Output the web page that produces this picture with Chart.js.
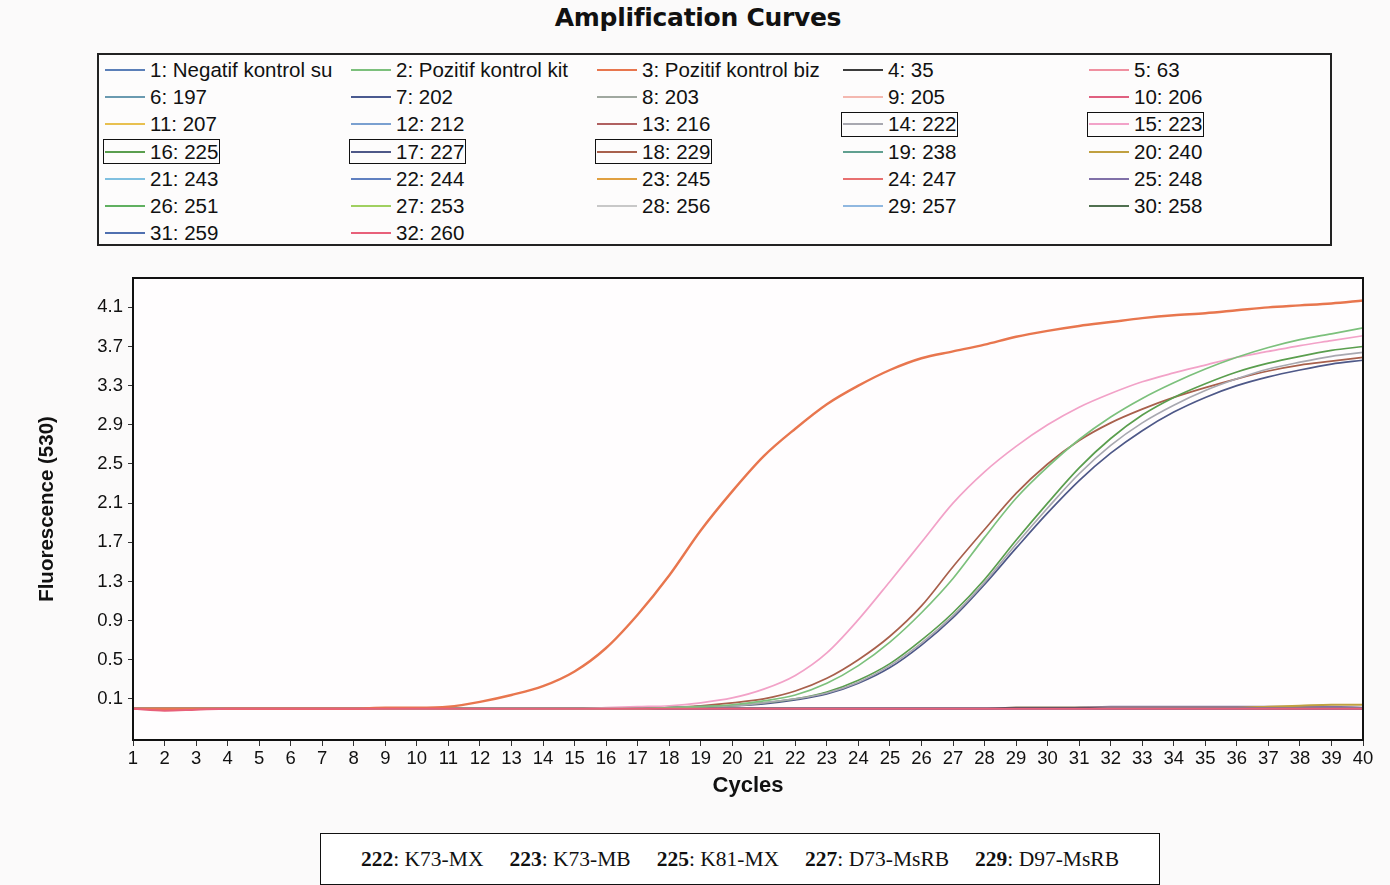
<!DOCTYPE html>
<html>
<head>
<meta charset="utf-8">
<title>Amplification Curves</title>
<script src="https://cdn.jsdelivr.net/npm/chart.js@4.4.1/dist/chart.umd.min.js"></script>
<style>
    html, body {
        margin: 0;
        padding: 0;
        background: #fbfafa;
        width: 1390px;
        height: 885px;
        overflow: hidden;
        font-family: 'Liberation Sans', Arial, sans-serif;
        color: #111;
    }

    .chart-title {
        position: absolute;
        left: 0;
        top: 3px;
        width: 1396px;
        text-align: center;
        font-family: 'DejaVu Sans', sans-serif;
        font-weight: bold;
        font-size: 25px;
        letter-spacing: -0.3px;
    }

    .legend-box {
        position: absolute;
        left: 97px;
        top: 53px;
        width: 1235px;
        height: 193px;
        box-sizing: border-box;
        border: 2px solid #222;
        background: #fdfcfc;
        display: grid;
        grid-template-columns: repeat(5, 246px);
        grid-auto-rows: 27.3px;
        padding: 1px 0 0 6px;
    }

    .legend-item {
        display: flex;
        align-items: center;
        font-size: 20.5px;
        white-space: nowrap;
    }

    .legend-item span.swatch {
        display: inline-block;
        width: 40px;
        height: 2px;
        margin-right: 5px;
    }

    .legend-item .inner {
        display: inline-flex;
        align-items: center;
        height: 23px;
    }

    .legend-item.boxed .inner {
        outline: 1.5px solid #111;
        outline-offset: 0;
        padding: 0 1px;
        margin-left: -1px;
    }

    .chart-wrap {
        position: absolute;
        left: 0;
        top: 260px;
        width: 1390px;
        height: 560px;
    }

    .caption-box {
        position: absolute;
        left: 320px;
        top: 833px;
        width: 840px;
        height: 52px;
        box-sizing: border-box;
        border: 1.5px solid #111;
        background: #fff;
        font-family: 'Liberation Serif', 'Times New Roman', serif;
        font-size: 21.5px;
        display: flex;
        align-items: center;
        justify-content: center;
    }

    .caption-box span {
        margin: 0 13px;
    }
</style>
</head>
<body>
<div class="chart-title">Amplification Curves</div>
<div class="legend-box" id="legendBox"></div>
<div class="chart-wrap"><canvas id="ampChart"></canvas></div>
<div class="caption-box" id="captionBox"></div>

<script>
const cycles = [1, 2, 3, 4, 5, 6, 7, 8, 9, 10, 11, 12, 13, 14, 15, 16, 17, 18, 19, 20,
    21, 22, 23, 24, 25, 26, 27, 28, 29, 30, 31, 32, 33, 34, 35, 36, 37, 38, 39, 40];

const yTickValues = [0.1, 0.5, 0.9, 1.3, 1.7, 2.1, 2.5, 2.9, 3.3, 3.7, 4.1];

const sampleLabels = [
    '1: Negatif kontrol su', '2: Pozitif kontrol kit', '3: Pozitif kontrol biz', '4: 35', '5: 63',
    '6: 197', '7: 202', '8: 203', '9: 205', '10: 206',
    '11: 207', '12: 212', '13: 216', '14: 222', '15: 223',
    '16: 225', '17: 227', '18: 229', '19: 238', '20: 240',
    '21: 243', '22: 244', '23: 245', '24: 247', '25: 248',
    '26: 251', '27: 253', '28: 256', '29: 257', '30: 258',
    '31: 259', '32: 260'
];

const lineColors = [
    '#5b7fb8', '#7cc07c', '#e8764e', '#3c3c3c', '#f090a0',
    '#6a9ab0', '#4a5a90', '#a0a8a0', '#f4b8b0', '#e06080',
    '#e8c050', '#7aa0d0', '#b06060', '#a8a8b0', '#f2a2c8',
    '#5a9e4e', '#4e5888', '#a8604c', '#60a090', '#c0a040',
    '#80c0e0', '#6080c0', '#e0a040', '#e87070', '#8070a8',
    '#60b060', '#a0d060', '#c8c8c8', '#90b8e0', '#507050',
    '#5070b0', '#e8607a'
];

const boxedSamples = ['14: 222', '15: 223', '16: 225', '17: 227', '18: 229'];

// fluorescence per cycle
const kontrolBiz = [0, 0, 0, 0, 0, 0, 0, 0, 0.01, 0.01,
    0.02, 0.07, 0.14, 0.23, 0.38, 0.62, 0.96, 1.36, 1.82, 2.22,
    2.58, 2.86, 3.11, 3.30, 3.46, 3.58, 3.65, 3.72, 3.80, 3.86,
    3.91, 3.95, 3.99, 4.02, 4.04, 4.07, 4.10, 4.12, 4.14, 4.17];

const kontrolKit = [0, 0, 0, 0, 0, 0, 0, 0, 0, 0,
    0, 0, 0, 0, 0, 0, 0, 0.01, 0.02, 0.04,
    0.08, 0.14, 0.26, 0.44, 0.68, 0.98, 1.33, 1.75, 2.15, 2.47,
    2.75, 2.98, 3.17, 3.33, 3.47, 3.59, 3.69, 3.77, 3.83, 3.89];

const s222 = [0, 0, 0, 0, 0, 0, 0, 0, 0, 0,
    0, 0, 0, 0, 0, 0, 0, 0.01, 0.02, 0.03,
    0.06, 0.10, 0.16, 0.27, 0.44, 0.67, 0.95, 1.29, 1.68, 2.05,
    2.40, 2.69, 2.92, 3.10, 3.25, 3.37, 3.47, 3.54, 3.60, 3.64];

const s223 = [0, 0, 0, 0, 0, 0, 0, 0, 0, 0,
    0, 0, 0, 0, 0, 0.01, 0.02, 0.03, 0.06, 0.11,
    0.20, 0.34, 0.57, 0.91, 1.30, 1.70, 2.10, 2.42, 2.68, 2.90,
    3.08, 3.22, 3.34, 3.43, 3.51, 3.59, 3.65, 3.71, 3.76, 3.81];

const s225 = [0, 0, 0, 0, 0, 0, 0, 0, 0, 0,
    0, 0, 0, 0, 0, 0, 0, 0.01, 0.02, 0.03,
    0.06, 0.10, 0.17, 0.29, 0.46, 0.70, 0.98, 1.32, 1.72, 2.10,
    2.46, 2.76, 3.00, 3.18, 3.32, 3.44, 3.53, 3.60, 3.66, 3.70];

const s227 = [0, 0, 0, 0, 0, 0, 0, 0, 0, 0,
    0, 0, 0, 0, 0, 0, 0, 0.01, 0.02, 0.03,
    0.05, 0.09, 0.15, 0.26, 0.42, 0.65, 0.93, 1.27, 1.64, 2.00,
    2.33, 2.61, 2.84, 3.03, 3.18, 3.30, 3.39, 3.46, 3.52, 3.56];

const s229 = [0, 0, 0, 0, 0, 0, 0, 0, 0, 0,
    0, 0, 0, 0, 0, 0, 0, 0.01, 0.03, 0.06,
    0.10, 0.18, 0.31, 0.50, 0.74, 1.05, 1.45, 1.83, 2.20, 2.50,
    2.74, 2.92, 3.06, 3.18, 3.28, 3.37, 3.45, 3.51, 3.55, 3.59];

const baseFlat = [0, 0, 0, 0, 0, 0, 0, 0, 0, 0,
    0, 0, 0, 0, 0, 0, 0, 0, 0, 0,
    0, 0, 0, 0, 0, 0, 0, 0, 0, 0,
    0, 0, 0, 0, 0, 0, 0, 0, 0, 0];

const baseRed = [0, -0.02, -0.01, 0, 0, 0, 0, 0, 0, 0,
    0, 0, 0, 0, 0, 0, 0, 0, 0, 0,
    0, 0, 0, 0, 0, 0, 0, 0, 0, 0,
    0, 0, 0, 0, 0, 0, 0, 0, 0, 0];

const baseOlive = [0, 0, 0, 0, 0, 0, 0, 0, 0, 0,
    0, 0, 0, 0, 0, 0, 0, 0, 0, 0,
    0, 0, 0, 0, 0, 0, 0, 0, 0.01, 0.01,
    0.01, 0.01, 0.01, 0.01, 0.01, 0.01, 0.02, 0.03, 0.04, 0.04];

const basePurple = [0, 0, 0, 0, 0, 0, 0, 0, 0, 0,
    0, 0, 0, 0, 0, 0, 0, 0, 0, 0,
    0, 0, 0, 0, 0, 0, 0, 0, 0, 0,
    0.01, 0.02, 0.02, 0.02, 0.02, 0.02, 0.02, 0.02, 0.02, 0.01];

const baseDark = [0, 0, 0, 0, 0, 0, 0, 0, 0, 0,
    0, 0, 0, 0, 0, 0, 0, 0, 0, 0,
    0, 0, 0, 0, 0, 0, 0, 0, 0.01, 0.01,
    0.01, 0, 0, 0, 0, 0, 0, 0, 0, 0];

const captionItems = [
    ['222', 'K73-MX'], ['223', 'K73-MB'], ['225', 'K81-MX'], ['227', 'D73-MsRB'], ['229', 'D97-MsRB']
];

document.addEventListener('DOMContentLoaded', function () {
    const seriesByLabel = {
        '2: Pozitif kontrol kit': kontrolKit,
        '3: Pozitif kontrol biz': kontrolBiz,
        '4: 35': baseDark,
        '14: 222': s222,
        '15: 223': s223,
        '16: 225': s225,
        '17: 227': s227,
        '18: 229': s229,
        '20: 240': baseOlive,
        '25: 248': basePurple,
        '32: 260': baseRed
    };

    // legend
    const legendBox = document.getElementById('legendBox');
    sampleLabels.forEach(function (label, i) {
        const item = document.createElement('div');
        item.className = 'legend-item' + (boxedSamples.includes(label) ? ' boxed' : '');
        const inner = document.createElement('span');
        inner.className = 'inner';
        const swatch = document.createElement('span');
        swatch.className = 'swatch';
        swatch.style.background = lineColors[i];
        inner.appendChild(swatch);
        inner.appendChild(document.createTextNode(label));
        item.appendChild(inner);
        legendBox.appendChild(item);
    });

    // caption under the chart
    const captionBox = document.getElementById('captionBox');
    captionItems.forEach(function (pair) {
        const span = document.createElement('span');
        const b = document.createElement('b');
        b.textContent = pair[0];
        span.appendChild(b);
        span.appendChild(document.createTextNode(': ' + pair[1]));
        captionBox.appendChild(span);
    });

    const datasets = sampleLabels.map(function (label, i) {
        const rising = ['2: Pozitif kontrol kit', '3: Pozitif kontrol biz', '14: 222', '15: 223',
            '16: 225', '17: 227', '18: 229'].includes(label);
        let order = 5;
        if (rising) order = 2;
        if (label === '32: 260') order = 0;
        if (label === '3: Pozitif kontrol biz') order = 1;
        return {
            label: label,
            data: seriesByLabel[label] || baseFlat,
            borderColor: lineColors[i],
            borderWidth: label === '3: Pozitif kontrol biz' ? 2.4 : (rising ? 1.7 : 2),
            pointRadius: 0,
            fill: false,
            cubicInterpolationMode: 'monotone',
            order: order
        };
    });

    const framePlugin = {
        id: 'plotFrame',
        beforeDraw: function (chart) {
            const a = chart.chartArea;
            const ctx = chart.ctx;
            ctx.save();
            ctx.fillStyle = '#fffdfe';
            ctx.fillRect(a.left, a.top, a.right - a.left, a.bottom - a.top);
            ctx.restore();
        },
        afterDatasetsDraw: function (chart) {
            const a = chart.chartArea;
            const ctx = chart.ctx;
            ctx.save();
            ctx.strokeStyle = '#111';
            ctx.lineWidth = 2;
            ctx.strokeRect(a.left, a.top, a.right - a.left, a.bottom - a.top);
            ctx.restore();
        }
    };

    new Chart(document.getElementById('ampChart'), {
        type: 'line',
        data: {
            labels: cycles,
            datasets: datasets
        },
        options: {
            responsive: true,
            maintainAspectRatio: false,
            animation: false,
            layout: {
                padding: { top: 18, right: 27, left: 0, bottom: 0 }
            },
            plugins: {
                legend: { display: false },
                tooltip: { enabled: false }
            },
            scales: {
                x: {
                    type: 'category',
                    offset: false,
                    afterFit: function (scale) {
                        scale.height = 80;
                    },
                    grid: {
                        display: true,
                        drawOnChartArea: false,
                        drawTicks: true,
                        tickLength: 6,
                        color: '#333'
                    },
                    border: { display: true, color: '#111', width: 2 },
                    ticks: {
                        autoSkip: false,
                        maxRotation: 0,
                        padding: 2,
                        color: '#111',
                        font: { family: "'Liberation Sans', Arial, sans-serif", size: 18.5 }
                    },
                    title: {
                        display: true,
                        text: 'Cycles',
                        color: '#111',
                        padding: { top: 0, bottom: 21 },
                        font: { family: "'Liberation Sans', Arial, sans-serif", size: 22, weight: 'bold' }
                    }
                },
                y: {
                    min: -0.32,
                    max: 4.4,
                    afterFit: function (scale) {
                        scale.width = 133;
                    },
                    afterBuildTicks: function (scale) {
                        scale.ticks = yTickValues.map(function (v) {
                            return { value: v };
                        });
                    },
                    grid: {
                        display: true,
                        drawOnChartArea: false,
                        drawTicks: true,
                        tickLength: 5,
                        color: '#333'
                    },
                    border: { display: true, color: '#111', width: 2 },
                    ticks: {
                        padding: 5,
                        color: '#111',
                        font: { family: "'Liberation Sans', Arial, sans-serif", size: 18.5 },
                        callback: function (value) {
                            return Number(value).toFixed(1);
                        }
                    },
                    title: {
                        display: true,
                        text: 'Fluorescence (530)',
                        color: '#111',
                        padding: { top: 35, bottom: 0 },
                        font: { family: "'Liberation Sans', Arial, sans-serif", size: 20.5, weight: 'bold' }
                    }
                }
            }
        },
        plugins: [framePlugin]
    });
});
</script>
</body>
</html>
